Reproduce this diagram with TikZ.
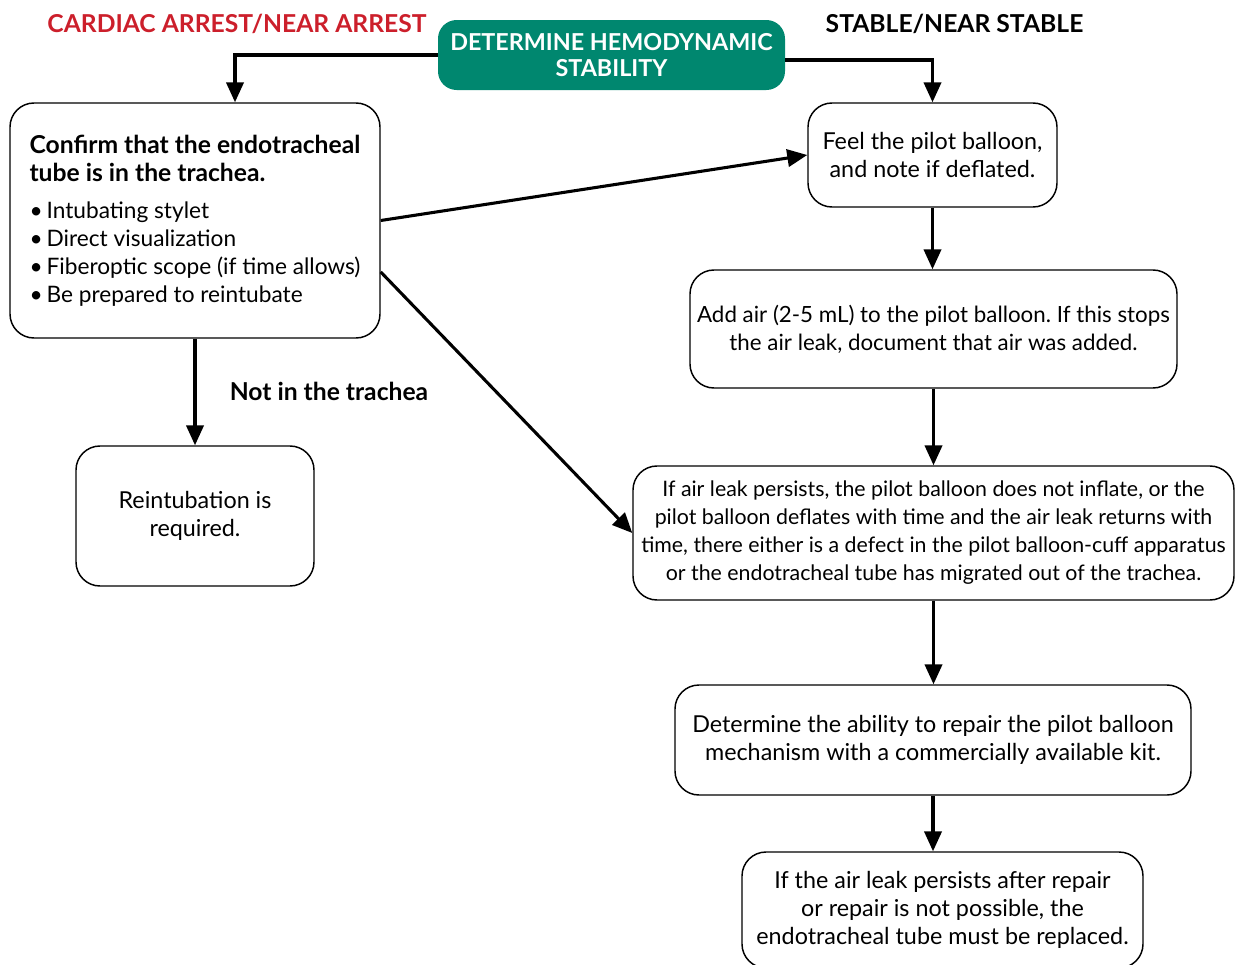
\documentclass[tikz,border=0pt]{standalone}
\usepackage{fontspec}
\setmainfont{Lato}
\usetikzlibrary{arrows.meta}
\definecolor{tealbox}{HTML}{00876F}
\definecolor{redlbl}{HTML}{CC1F2B}
\newcommand{\bul}{\textbullet\hspace{3pt}}
\frenchspacing
\begin{document}
\begin{tikzpicture}[x=0.75pt,y=-0.75pt,
  box/.style={draw, line width=1.1pt, rounded corners=18pt, align=center, inner sep=0pt,
    font=\fontsize{17.5}{21}\selectfont},
  conn/.style={line width=2.3pt, -{Triangle[length=15pt,width=13pt]}},
  lbl/.style={font=\fontsize{18.5}{21}\selectfont\bfseries, inner sep=0pt},
]
\clip (0,0) rectangle (1235,964);
\node[fill=tealbox, rounded corners=14pt, text=white, align=center, inner sep=0pt,
  minimum width=347*0.75pt, minimum height=70*0.75pt,
  font=\fontsize{17.5}{20}\selectfont\bfseries] (start) at (611.5,55) {DETERMINE HEMODYNAMIC\\STABILITY};
\node[lbl, text=redlbl] (lblL) at (237,24) {CARDIAC ARREST/NEAR ARREST};
\node[lbl] (lblR) at (954.5,24) {STABLE/NEAR STABLE};
\node[lbl] (lblN) at (329,391) {Not in the trachea};

\node[box, align=left, minimum width=370*0.75pt, minimum height=235*0.75pt,
  font=\fontsize{17}{21}\selectfont] (left) at (195,220.5)
 {{\fontsize{18.5}{21}\selectfont\bfseries Confirm that the endotracheal}\\{\fontsize{18.5}{21}\selectfont\bfseries tube is in the trachea.}\\[7pt]
  \bul Intubating stylet\\\bul Direct visualization\\
  \bul Fiberoptic scope (if time allows)\\\bul Be prepared to reintubate};
\node[box, minimum width=238*0.75pt, minimum height=140*0.75pt] (reint) at (195,516) {Reintubation is\\required.};
\node[box, minimum width=249*0.75pt, minimum height=104*0.75pt] (feel) at (932.5,155) {Feel the pilot balloon,\\and note if deflated.};
\node[box, minimum width=487*0.75pt, minimum height=118*0.75pt, font=\fontsize{16.75}{21}\selectfont] (add) at (933.5,329) {Add air (2-5 mL) to the pilot balloon. If this stops\\the air leak, document that air was added.};
\node[box, minimum width=601*0.75pt, minimum height=134*0.75pt, font=\fontsize{16}{21}\selectfont] (leak) at (933.5,533) {If air leak persists, the pilot balloon does not inflate, or the\\pilot balloon deflates with time and the air leak returns with\\time, there either is a defect in the pilot balloon-cuff apparatus\\or the endotracheal tube has migrated out of the trachea.};
\node[box, minimum width=516*0.75pt, minimum height=110*0.75pt] (det) at (933,740) {Determine the ability to repair the pilot balloon\\mechanism with a commercially available kit.};
\node[box, minimum width=401*0.75pt, minimum height=116*0.75pt] (final) at (942.5,910) {If the air leak persists after repair\\or repair is not possible, the\\endotracheal tube must be replaced.};

\draw[conn] (start.west) -| ([xshift=30pt]left.north);
\draw[conn] ([yshift=-3.75pt]start.east) -| (feel.north);
\draw[conn] (left.east) -- (feel.west);
\draw[conn] ([yshift=-38.6pt]left.east) -- (leak.west);
\draw[conn] (left.south) -- (reint.north);
\draw[conn] (feel.south) -- (feel.south |- add.north);
\draw[conn] (add.south) -- (add.south |- leak.north);
\draw[conn] (leak.south) -- (leak.south |- det.north);
\draw[conn] (det.south) -- (det.south |- final.north);
\end{tikzpicture}
\end{document}
